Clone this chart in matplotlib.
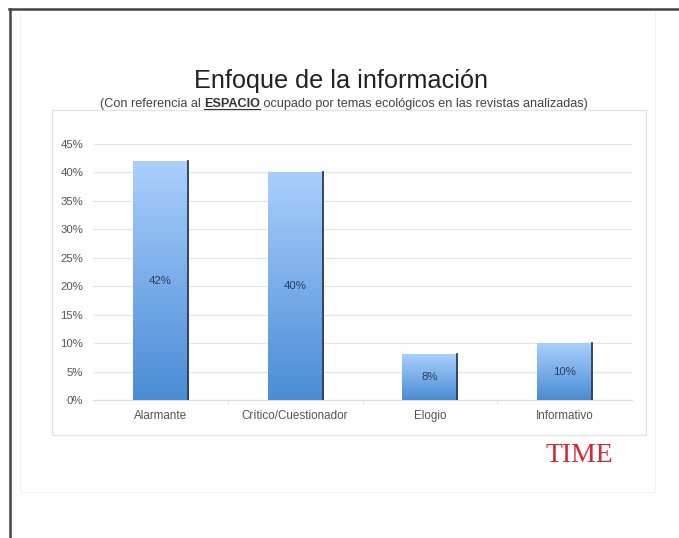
import matplotlib.pyplot as plt
import numpy as np
from matplotlib.patches import Rectangle
from matplotlib.colors import LinearSegmentedColormap

plt.rcParams['font.family'] = ['Liberation Sans', 'DejaVu Sans']

categories = ['Alarmante', 'Crítico/Cuestionador', 'Elogio', 'Informativo']
values = [42, 40, 8, 10]
yticks = [0, 5, 10, 15, 20, 25, 30, 35, 40, 45]

W, H = 679, 538
fig = plt.figure(figsize=(W / 100, H / 100), dpi=100)
fig.patch.set_facecolor('white')

# outer frame lines (scan border) and slide panel
fig.add_artist(plt.Line2D([9 / W, 1], [1 - 9 / H, 1 - 9 / H], color='#444444', lw=1.8))
fig.add_artist(plt.Line2D([9.5 / W, 9.5 / W], [0, 1 - 9 / H], color='#444444', lw=1.8))
fig.add_artist(Rectangle((20 / W, 1 - 492 / H), 635 / W, 482 / H, fill=False,
                         ec='#f2f2f2', lw=0.8))
# chart panel box
fig.add_artist(Rectangle((52 / W, 1 - 435 / H), 594 / W, 325 / H, fill=False,
                         ec='#e3e3e3', lw=0.9))

ax = fig.add_axes([93 / W, 1 - 400 / H, 539 / W, 256 / H])

# gradient bars
cmap = LinearSegmentedColormap.from_list('bl', ['#4a8cd6', '#aacffc'])
grad = np.linspace(0, 1, 256).reshape(-1, 1)
bw = 0.41
for i, v in enumerate(values):
    im = ax.imshow(grad, cmap=cmap, aspect='auto', origin='lower',
                   extent=(i - bw / 2, i + bw / 2, 0, v), zorder=3)
    r = Rectangle((i - bw / 2, 0), bw, v, transform=ax.transData, fc='none', ec='none')
    ax.add_patch(r)
    im.set_clip_path(r)
    ax.plot([i + bw / 2, i + bw / 2], [0, v], color='#2a3f5a', lw=1.3, zorder=4)
    ax.text(i, v / 2, f'{v}%', ha='center', va='center', fontsize=8.2,
            color='#2a3f5f', zorder=5)
ax.set_xlim(-0.5, 3.5)
ax.set_ylim(0, 45)

ax.set_yticks(yticks)
ax.set_yticklabels([f'{t}%' for t in yticks])
ax.yaxis.grid(True, color='#e6e6e6', lw=0.9, zorder=0)
ax.set_axisbelow(True)
ax.tick_params(axis='y', length=0, labelsize=8.2, labelcolor='#555555', pad=7)
ax.set_xticks(range(len(categories)))
ax.set_xticklabels(categories)
ax.tick_params(axis='x', length=0, labelsize=8.4, labelcolor='#555555', pad=7)
ax.set_xticks([0.5, 1.5, 2.5], minor=True)
ax.tick_params(axis='x', which='minor', length=3, color='#dddddd', direction='out')
for s in ['left', 'right', 'top']:
    ax.spines[s].set_visible(False)
ax.spines['bottom'].set_color('#dddddd')

fig.text(341 / W, 1 - 81 / H, 'Enfoque de la información', ha='center', va='center',
         fontsize=18.2, color='#222222')
sub_y = 1 - 104 / H
fs = 9.1
t1 = fig.text(100 / W, sub_y, '(Con referencia al ', ha='left', va='center',
              fontsize=fs, color='#444444')
fig.canvas.draw()
r = fig.canvas.get_renderer()
bb = t1.get_window_extent(r)
t2 = fig.text(bb.x1 / W, sub_y, 'ESPACIO', ha='left', va='center', fontsize=fs,
              color='#333333', fontweight='bold')
bb2 = t2.get_window_extent(r)
fig.add_artist(plt.Line2D([bb2.x0 / W, bb2.x1 / W], [(bb2.y0 + 1) / H, (bb2.y0 + 1) / H],
                          color='#333333', lw=0.8))
fig.text(bb2.x1 / W, sub_y, ' ocupado por temas ecológicos en las revistas analizadas)',
         ha='left', va='center', fontsize=fs, color='#444444')

fig.text(579 / W, 1 - 456 / H, 'TIME', ha='center', va='center', fontsize=20,
         color='#d42a35', family='Liberation Serif')

fig.savefig('out.png', dpi=100)
